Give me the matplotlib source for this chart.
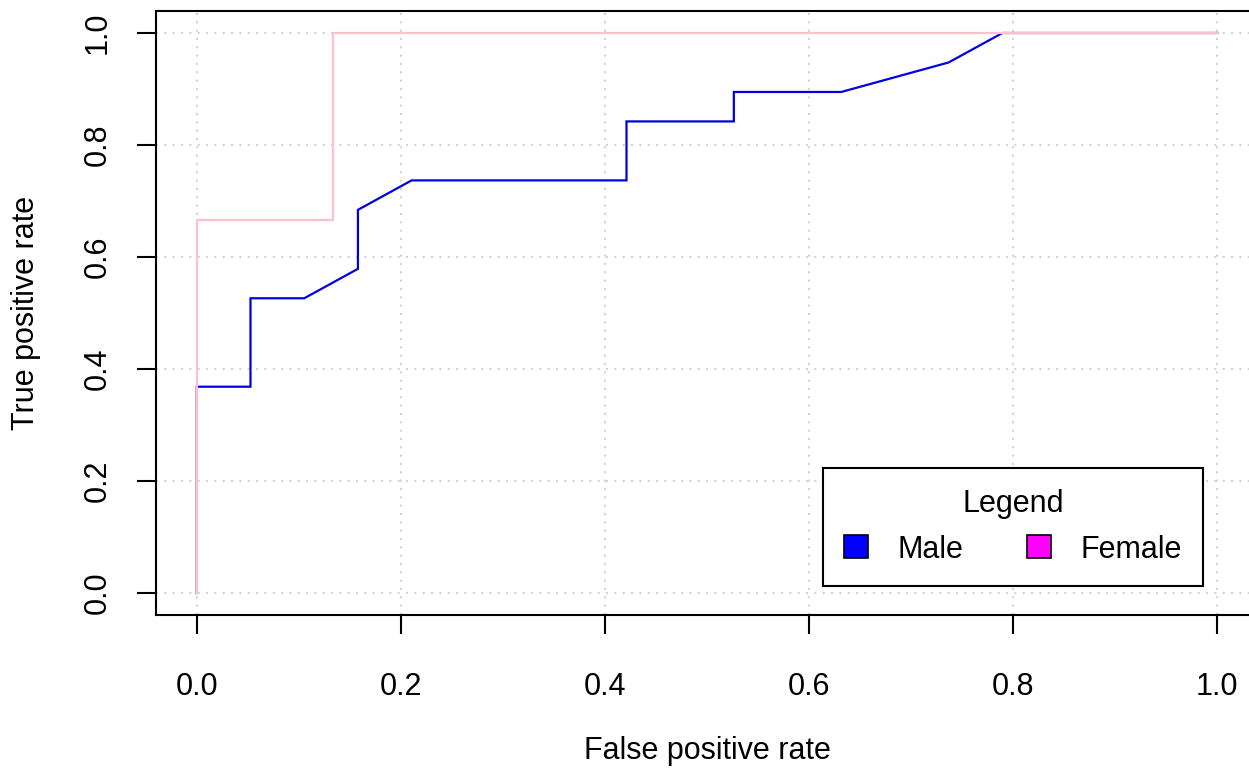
import matplotlib
matplotlib.use("Agg")
import matplotlib.pyplot as plt
from matplotlib.patches import Patch

plt.rcParams['font.family'] = ['Liberation Sans', 'DejaVu Sans']

# ROC curve vertices (false positive rate, true positive rate)
male_fpr = [0.0, 0.0, 0.0526, 0.0526, 0.1053, 0.1579, 0.1579, 0.2105, 0.4211, 0.4211,
            0.5263, 0.5263, 0.6316, 0.7368, 0.7895, 1.0]
male_tpr = [0.0, 0.3684, 0.3684, 0.5263, 0.5263, 0.5789, 0.6842, 0.7368, 0.7368, 0.8421,
            0.8421, 0.8947, 0.8947, 0.9474, 1.0, 1.0]
female_fpr = [0.0, 0.0, 0.1333, 0.1333, 1.0]
female_tpr = [0.0, 0.6667, 0.6667, 1.0, 1.0]

ticks = [0.0, 0.2, 0.4, 0.6, 0.8, 1.0]
tick_labels = ["0.0", "0.2", "0.4", "0.6", "0.8", "1.0"]
groups = ["Male", "Female"]
group_colors = ["#0000FF", "#FF00FF"]

W, H = 1249, 771
fig = plt.figure(figsize=(W / 100, H / 100), dpi=100)
# axes box in pixels: left 156, right 1258, top 10.6, bottom 615.4
l, r, t, b = 156, 1258, 10.6, 615.4
ax = fig.add_axes([l / W, 1 - b / H, (r - l) / W, (b - t) / H])
ax.set_xlim(-0.04, 1.04)
ax.set_ylim(-0.04, 1.04)

# dotted grid
for v in ticks:
    ax.axvline(v, color="#D3D3D3", lw=1.5, ls=(0, (1, 3)), zorder=0)
    ax.axhline(v, color="#D3D3D3", lw=1.5, ls=(0, (1, 3)), zorder=0)

ax.plot(male_fpr, male_tpr, color="#0000E0", lw=1.6, solid_joinstyle="miter", zorder=2)
ax.plot(female_fpr, female_tpr, color="#FFC0CB", lw=1.6, solid_joinstyle="miter", zorder=3)

for s in ax.spines.values():
    s.set_linewidth(1.5)
    s.set_color("black")

fs = 22
ax.set_xticks(ticks)
ax.set_xticklabels(tick_labels)
ax.set_yticks(ticks)
ax.set_yticklabels(tick_labels, rotation=90, va="center")
ax.tick_params(axis="both", length=14, width=1.5, labelsize=fs)
ax.tick_params(axis="x", pad=27)
ax.tick_params(axis="y", pad=17)

ax.set_xlabel("False positive rate", fontsize=fs, labelpad=24)
ax.set_ylabel("True positive rate", fontsize=fs, labelpad=30)

handles = [Patch(facecolor=c, edgecolor="black", lw=1.2) for c in group_colors]
leg = ax.legend(handles, groups, ncol=2, title="Legend", fontsize=fs, title_fontsize=fs,
                loc="lower right", bbox_to_anchor=(0.986, 0.0125), bbox_transform=ax.transData,
                borderaxespad=0, fancybox=False, framealpha=1, edgecolor="black",
                borderpad=0.7, labelspacing=0.5,
                handlelength=0.78, handleheight=0.78, handletextpad=0.95, columnspacing=2.1)
leg.get_frame().set_linewidth(1.5)

fig.savefig("out.png", dpi=100)
